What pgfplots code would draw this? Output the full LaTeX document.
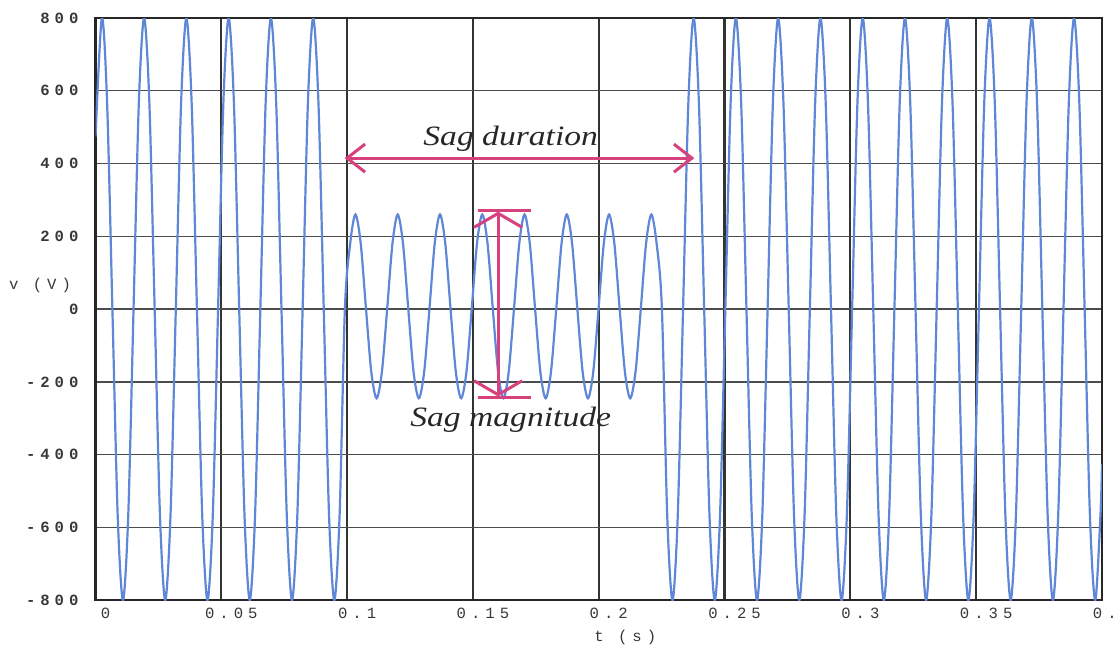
\documentclass[border=0pt]{standalone}
\usepackage{pgfplots}
\pgfplotsset{compat=1.18}
\usepackage{pgfplotstable}
\usepackage{fontspec}
\setmainfont{Liberation Serif}
\newfontfamily\tickfont[LetterSpace=32]{Liberation Mono}
\usetikzlibrary{arrows.meta}
\definecolor{wave}{RGB}{95,135,215}
\definecolor{sagc}{RGB}{215,65,125}

\pgfplotstableread{
t v
0 474
0.0025 800
0.0046 566
0.0067 0
0.0088 -566
0.0109 -800
0.0130 -566
0.0151 0
0.0172 566
0.0193 800
0.0214 566
0.0235 0
0.0256 -566
0.0277 -800
0.0298 -566
0.0319 0
0.0340 566
0.0361 800
0.0382 566
0.0403 0
0.0424 -566
0.0445 -800
0.0466 -566
0.0487 0
0.0508 566
0.0529 800
0.0550 566
0.0571 0
0.0592 -566
0.0613 -800
0.0634 -566
0.0655 0
0.0676 566
0.0697 800
0.0718 566
0.0739 0
0.0760 -566
0.0781 -800
0.0802 -566
0.0823 0
0.0844 566
0.0865 800
0.0886 566
0.0907 0
0.0928 -566
0.0949 -800
0.0970 -566
0.0991 0
0.1012 180
0.1033 260
0.1054 180
0.1075 0
0.1096 -173
0.1117 -245
0.1138 -173
0.1159 0
0.1180 180
0.1201 260
0.1222 180
0.1243 0
0.1264 -173
0.1285 -245
0.1306 -173
0.1327 0
0.1348 180
0.1369 260
0.1390 180
0.1411 0
0.1432 -173
0.1453 -245
0.1474 -173
0.1495 0
0.1516 180
0.1537 260
0.1558 180
0.1579 0
0.1600 -173
0.1621 -245
0.1642 -173
0.1663 0
0.1684 180
0.1705 260
0.1726 180
0.1747 0
0.1768 -173
0.1789 -245
0.1810 -173
0.1831 0
0.1852 180
0.1873 260
0.1894 180
0.1915 0
0.1936 -173
0.1957 -245
0.1978 -173
0.1999 0
0.2020 180
0.2041 260
0.2062 180
0.2083 0
0.2104 -173
0.2125 -245
0.2146 -173
0.2167 0
0.2188 180
0.2209 260
0.2230 180
0.2251 0
0.2272 -566
0.2293 -800
0.2314 -566
0.2335 0
0.2356 566
0.2377 800
0.2398 566
0.2419 0
0.2440 -566
0.2461 -800
0.2482 -566
0.2503 0
0.2524 566
0.2545 800
0.2566 566
0.2587 0
0.2608 -566
0.2629 -800
0.2650 -566
0.2671 0
0.2692 566
0.2713 800
0.2734 566
0.2755 0
0.2776 -566
0.2797 -800
0.2818 -566
0.2839 0
0.2860 566
0.2881 800
0.2902 566
0.2923 0
0.2944 -566
0.2965 -800
0.2986 -566
0.3007 0
0.3028 566
0.3049 800
0.3070 566
0.3091 0
0.3112 -566
0.3133 -800
0.3154 -566
0.3175 0
0.3196 566
0.3217 800
0.3238 566
0.3259 0
0.3280 -566
0.3301 -800
0.3322 -566
0.3343 0
0.3364 566
0.3385 800
0.3406 566
0.3427 0
0.3448 -566
0.3469 -800
0.3490 -566
0.3511 0
0.3532 566
0.3553 800
0.3574 566
0.3595 0
0.3616 -566
0.3637 -800
0.3658 -566
0.3679 0
0.3700 566
0.3721 800
0.3742 566
0.3763 0
0.3784 -566
0.3805 -800
0.3826 -566
0.3847 0
0.3868 566
0.3889 800
0.3910 566
0.3931 0
0.3952 -566
0.3973 -800
0.3994 -566
0.4 -425
}\wavedata

\begin{document}
\begin{tikzpicture}
\begin{axis}[
  name=ax,
  width=503pt, height=291pt, scale only axis,
  xmin=0, xmax=0.4, ymin=-800, ymax=800,
  xtick={0,0.05,0.1,0.15,0.2,0.25,0.3,0.35,0.4},
  xticklabels={0,0.05,0.1,0.15,0.2,0.25,0.3,0.35,0.4},
  ytick={-800,-600,-400,-200,0,200,400,600,800},
  yticklabels={-800,-600,-400,-200,0,200,400,600,800},
  grid=major,
  major tick length=0pt,
  ticklabel style={font=\tickfont\fontsize{7.8}{9}\selectfont, text=black!78},
  xticklabel style={xshift=5pt, yshift=-0.5pt},
  yticklabel style={xshift=-5pt, font=\tickfont\bfseries\fontsize{7.8}{9}\selectfont},
  axis line style={line width=1.2pt, black!85},
  x grid style={line width=1.1pt, black!80},
  y grid style={line width=0.7pt, black!70},
]
\addplot[wave, line width=1.1pt, smooth] table[x=t,y=v]{\wavedata};
\draw[sagc, line width=1.5pt, {Straight Barb[length=9pt,width=14pt]}-{Straight Barb[length=9pt,width=14pt]}] (axis cs:0.099,415) -- (axis cs:0.238,415);
\draw[sagc, line width=1.5pt, {Straight Barb[length=7pt,width=24pt]}-{Straight Barb[length=7pt,width=24pt]}] (axis cs:0.160,268) -- (axis cs:0.160,-240);
\draw[sagc, line width=1.5pt] (axis cs:0.1519,270) -- (axis cs:0.1730,270);
\draw[sagc, line width=1.5pt] (axis cs:0.1519,-242) -- (axis cs:0.1730,-242);
\node[font=\itshape\fontsize{14}{16}\selectfont, text=black!85, xscale=1.2] at (axis cs:0.165,468) {Sag duration};
\node[font=\itshape\fontsize{14}{16}\selectfont, text=black!85, xscale=1.2] at (axis cs:0.165,-303) {Sag magnitude};
\end{axis}
\node[font=\tickfont\fontsize{7.8}{9}\selectfont, text=black!78] at ([shift={(-27.75pt,157.5pt)}]ax.south west) {v (V)};
\node[font=\tickfont\fontsize{7.8}{9}\selectfont, text=black!78] at ([shift={(264.75pt,-18.5pt)}]ax.south west) {t (s)};
\pgfresetboundingbox
\path ([shift={(-47.75pt,-22.5pt)}]ax.south west) rectangle ([shift={(9pt,9pt)}]ax.north east);
\end{tikzpicture}
\end{document}
